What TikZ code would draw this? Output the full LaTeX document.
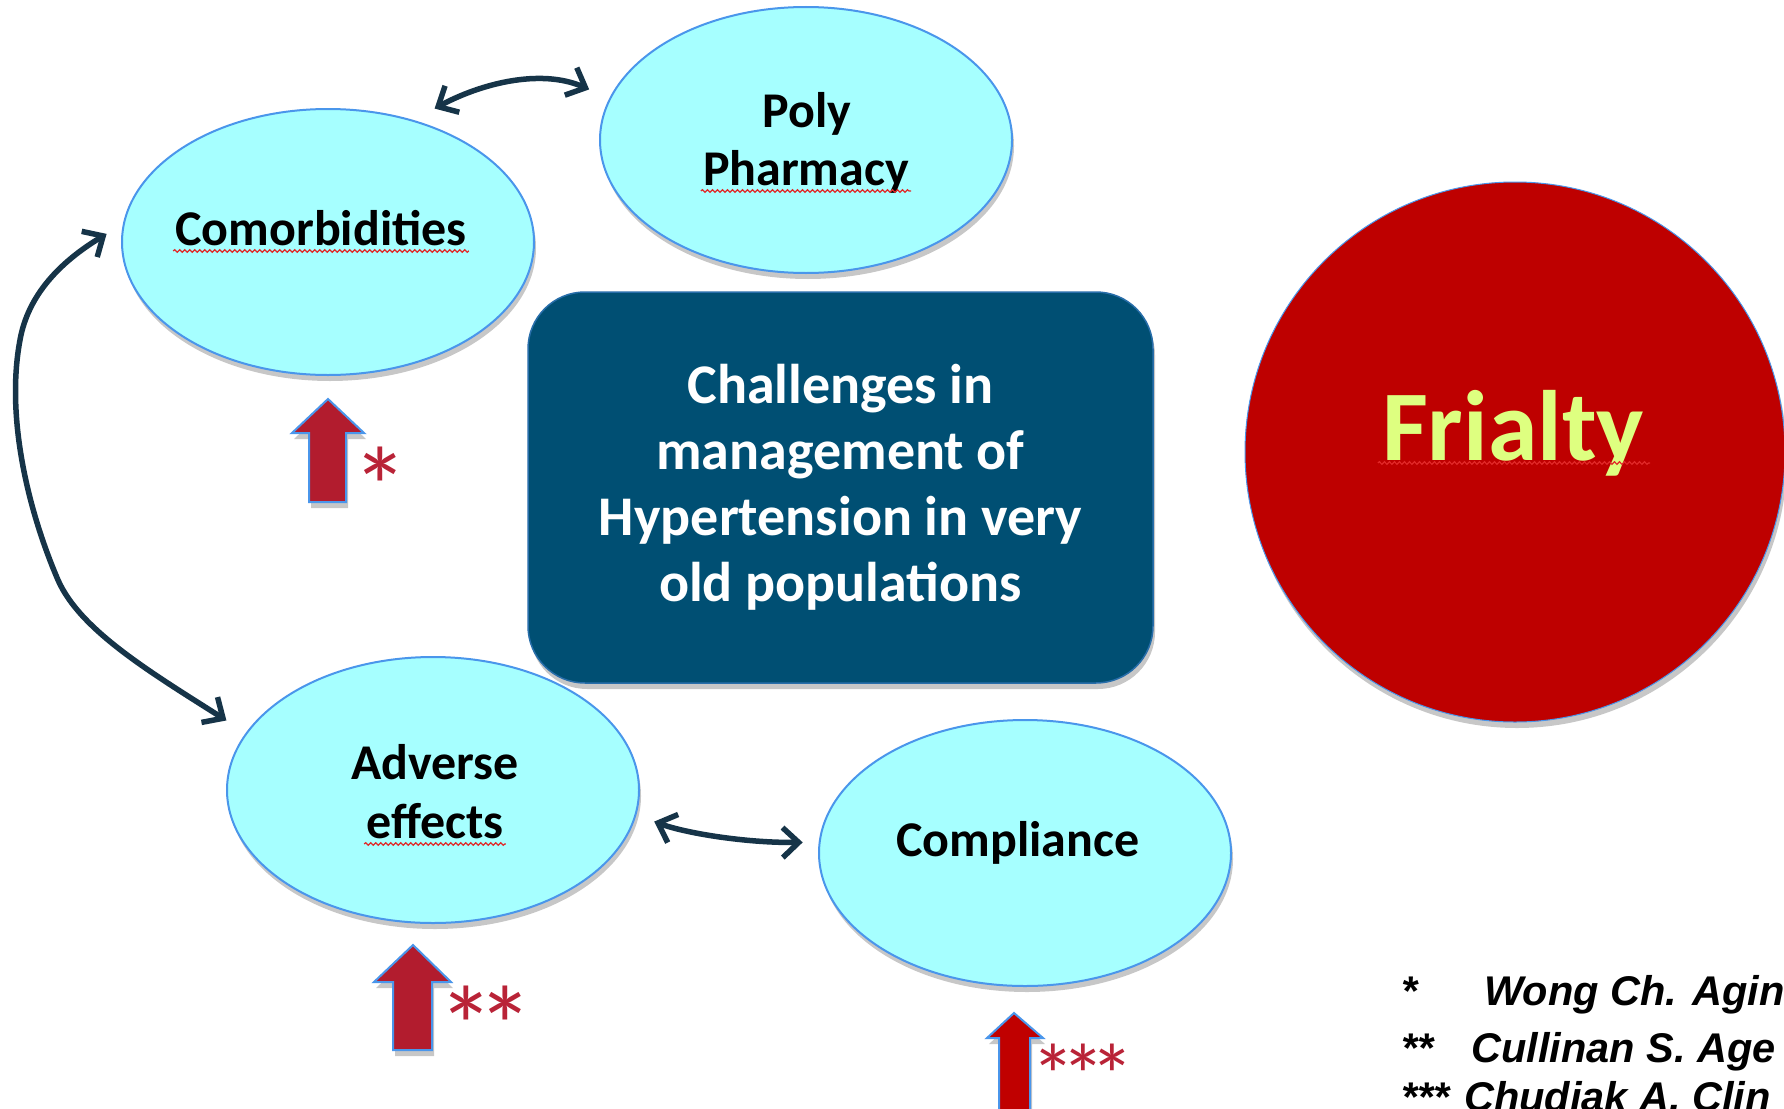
\documentclass[tikz,border=0pt]{standalone}
\usepackage{fontspec}
\setmainfont{Carlito}
\newfontfamily\refsfont{Liberation Sans}
\usetikzlibrary{arrows.meta,shadows,decorations.pathmorphing,shapes.geometric}

\definecolor{bubble}{RGB}{166,255,255}
\definecolor{bubbleedge}{RGB}{74,150,235}
\definecolor{panel}{RGB}{0,79,115}
\definecolor{panelrim}{RGB}{40,110,170}
\definecolor{frailred}{RGB}{190,0,0}
\definecolor{frailtext}{RGB}{222,255,128}
\definecolor{blockred}{RGB}{178,28,46}
\definecolor{blockdark}{RGB}{192,0,0}
\definecolor{starred}{RGB}{185,35,55}
\definecolor{linknavy}{RGB}{22,52,72}
\definecolor{squiggle}{RGB}{225,40,40}

\tikzset{
  softshadow/.style={drop shadow={shadow xshift=2pt, shadow yshift=-6pt, opacity=.22, fill=black}},
  bubble/.style={ellipse, draw=bubbleedge, line width=2pt, fill=bubble,
    minimum width=412pt, minimum height=266pt, inner sep=0pt, softshadow},
  lbltext/.style={font=\bfseries\fontsize{50}{60}\selectfont, text=black, inner sep=0pt, anchor=base},
  link/.style={draw=linknavy, line width=5.5pt, line cap=round,
    {Straight Barb[length=16pt,width=30pt]}-{Straight Barb[length=16pt,width=30pt]}},
  blockarrow/.style={fill=blockred, draw=bubbleedge, line width=2pt, line join=miter, softshadow},
  spell/.style={draw=squiggle, line width=1.2pt, decorate,
    decoration={snake, amplitude=1.3pt, segment length=5pt}},
  bigstar/.style={text=starred, inner sep=0pt, anchor=base, font=\fontsize{112}{112}\selectfont},
  smallstar/.style={text=starred, inner sep=0pt, anchor=base, font=\fontsize{88}{88}\selectfont},
  refline/.style={font=\refsfont\bfseries\itshape\fontsize{41.5}{48}\selectfont, inner sep=0pt, anchor=base west},
}

\begin{document}
\begin{tikzpicture}[x=1pt, y=-1pt]
  \useasboundingbox (0,0) rectangle (1784,1108);
  \clip (0,0) rectangle (1784,1108);
  \fill[white] (0,0) rectangle (1784,1108);

  % four factor bubbles
  \node[bubble] (com)  at (328,242) {};
  \node[bubble] (poly) at (806,140) {};
  \node[bubble] (adv)  at (433,790) {};
  \node[bubble] (comp) at (1025,853) {};

  \node[lbltext] (comT)   at (321,245) {Comorbidities};
  \node[lbltext] (polyT)  at (807,127) {Poly};
  \node[lbltext] (pharmT) at (806,185) {Pharmacy};
  \node[lbltext] (advT)   at (435,779) {Adverse};
  \node[lbltext] (effT)   at (435,838) {effects};
  \node[lbltext] (compT)  at (1018,856) {Compliance};

  % central panel
  \node[rectangle, rounded corners=57pt, fill=panel, draw=panelrim, line width=1.5pt,
        minimum width=625pt, minimum height=391pt, softshadow,
        text=white, align=center, font=\bfseries\fontsize{56}{66}\selectfont]
        (core) at (840.5,487.5)
        {Challenges in\\management of\\Hypertension in very\\old populations};

  % frailty disc
  \node[circle, fill=frailred, draw=bubbleedge, line width=1pt, minimum size=540pt,
        inner sep=0pt, softshadow] (frail) at (1515,452) {};
  \node[inner sep=0pt, anchor=base, text=frailtext, font=\bfseries\fontsize{100}{110}\selectfont]
        (frailT) at (1513,460) {Frialty};

  % spelling squiggles
  \draw[spell] ([xshift=-2pt,yshift=-6pt]comT.base west) -- ([xshift=2pt,yshift=-6pt]comT.base east);
  \draw[spell] ([xshift=-2pt,yshift=-6pt]pharmT.base west) -- ([xshift=2pt,yshift=-6pt]pharmT.base east);
  \draw[spell] ([xshift=-2pt,yshift=-6pt]effT.base west) -- ([xshift=2pt,yshift=-6pt]effT.base east);
  \draw[spell] ([xshift=-4pt,yshift=-3pt]frailT.base west) -- ([xshift=6pt,yshift=-3pt]frailT.base east);

  % links between factors
  \draw[link, shorten <=24pt, shorten >=22pt]
    (com.55) .. controls (480,84) and (540,68) .. (poly.168);
  \draw[link, shorten <=19pt, shorten >=16pt]
    (adv.-7) .. controls (685,833) and (745,843) .. (comp.177);
  \draw[link, shorten <=23pt, shorten >=19pt]
    (adv.163) .. controls (150,672) and (80,630) .. (58,580)
    .. controls (30,515) and (5,420) .. (20,340)
    .. controls (28,295) and (60,262) .. (com.175);

  % rising block arrows
  \draw[blockarrow] (309,502) -- (309,433) -- (292,433) -- (328,399) -- (364,433)
    -- (346,433) -- (346,502) -- cycle;
  \draw[blockarrow] (393,1050) -- (393,982) -- (374,982) -- (413,945) -- (451,982)
    -- (432,982) -- (432,1050) -- cycle;
  \draw[blockarrow, fill=blockdark] (999,1120) -- (999,1038) -- (987,1038) -- (1014,1013)
    -- (1043,1038) -- (1030,1038) -- (1030,1120) -- cycle;

  % asterisk markers
  \node[bigstar] (s1)  at (380,526) {*};
  \node[bigstar] (s2a) at (466,1065) {*};
  \node[bigstar] (s2b) at (505,1065) {*};
  \node[smallstar] (s3a) at (1053,1106) {*};
  \node[smallstar] (s3b) at (1083,1106) {*};
  \node[smallstar] (s3c) at (1112,1106) {*};

  % references
  \node[refline] (r1a) at (1401,1005) {*};
  \node[refline] (r1b) at (1484,1005) {Wong Ch. Agin};
  \node[refline] (r2a) at (1401,1062) {**};
  \node[refline] (r2b) at (1471,1062) {Cullinan S. Age};
  \node[refline] (r3a) at (1401,1111) {***};
  \node[refline] (r3b) at (1464,1111) {Chudiak A. Clin};
\end{tikzpicture}
\end{document}
